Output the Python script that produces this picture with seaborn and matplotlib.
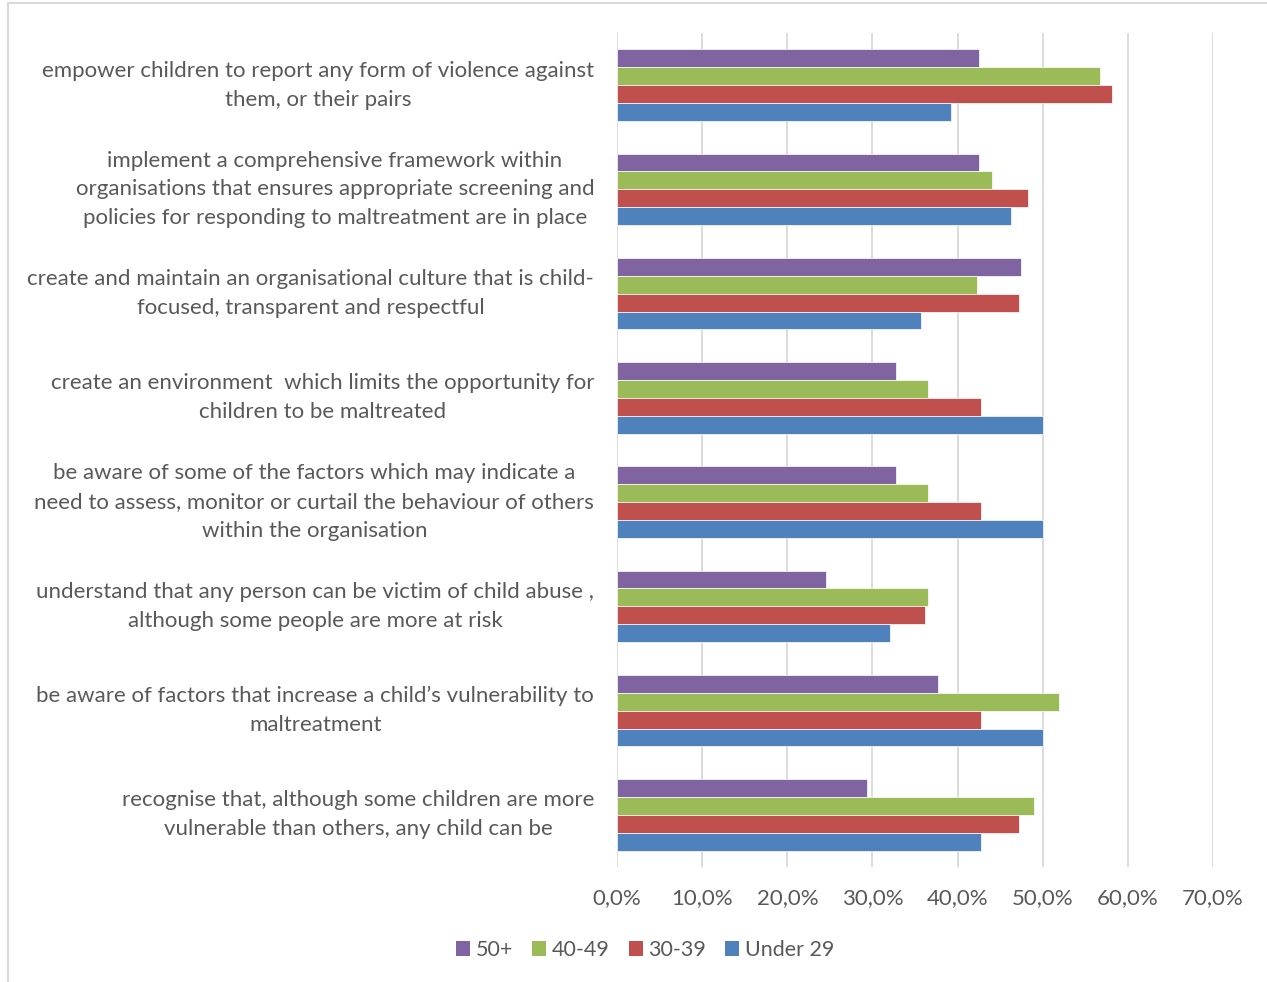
import matplotlib
matplotlib.use("Agg")
import matplotlib.pyplot as plt
import matplotlib.lines as mlines
from matplotlib.ticker import FuncFormatter, MultipleLocator
import seaborn as sns
import pandas as pd

# Statements (top to bottom)
categories = [
    "empower children to report any form of violence against\nthem, or their pairs",
    "implement a comprehensive framework within\norganisations that ensures appropriate screening and\npolicies for responding to maltreatment are in place",
    "create and maintain an organisational culture that is child-\nfocused, transparent and respectful",
    "create an environment  which limits the opportunity for\nchildren to be maltreated",
    "be aware of some of the factors which may indicate a\nneed to assess, monitor or curtail the behaviour of others\nwithin the organisation",
    "understand that any person can be victim of child abuse ,\nalthough some people are more at risk",
    "be aware of factors that increase a child\u2019s vulnerability to\nmaltreatment",
    "recognise that, although some children are more\nvulnerable than others, any child can be",
]

age_groups = ["50+", "40-49", "30-39", "Under 29"]

# Share of respondents per age group (%)
share_50plus = [42.5, 42.5, 47.5, 32.8, 32.8, 24.6, 37.7, 29.4]
share_40_49 = [56.7, 44.1, 42.3, 36.5, 36.5, 36.5, 51.9, 49.0]
share_30_39 = [58.2, 48.3, 47.2, 42.8, 42.8, 36.2, 42.8, 47.2]
share_under29 = [39.2, 46.3, 35.7, 50.0, 50.0, 32.1, 50.0, 42.8]

palette = {"50+": "#8064A2", "40-49": "#9BBB59", "30-39": "#C0504D", "Under 29": "#4F81BD"}

series = [share_50plus, share_40_49, share_30_39, share_under29]
df = pd.DataFrame(
    [(c, g, v) for g, vals in zip(age_groups, series) for c, v in zip(categories, vals)],
    columns=["statement", "age", "share"],
)

text_color = "#595959"
grid_color = "#D9D9D9"

sns.set_style("white")
plt.rcParams["font.family"] = ["Lato", "DejaVu Sans"]

fig = plt.figure(figsize=(12.67, 9.82), dpi=100)
ax = fig.add_axes([0.4871, 0.1171, 0.4701, 0.8493])

sns.barplot(
    data=df, x="share", y="statement", hue="age", hue_order=age_groups,
    order=categories, palette=palette, orient="h", width=0.687,
    edgecolor="white", linewidth=0.5, saturation=1, ax=ax, legend=True,
)

ax.set_xlim(0, 70)
ax.xaxis.set_major_locator(MultipleLocator(10))
ax.xaxis.set_major_formatter(FuncFormatter(lambda v, _: f"{v:.1f}%".replace(".", ",")))
ax.grid(axis="x", color=grid_color, linewidth=1.3)
ax.set_axisbelow(True)
for s in ax.spines.values():
    s.set_visible(False)
ax.set_xlabel("")
ax.set_ylabel("")
ax.tick_params(axis="x", length=0, pad=15.5, labelsize=16, labelcolor=text_color)
ax.tick_params(axis="y", length=0, pad=16.5, labelsize=16, labelcolor=text_color)
for lbl in ax.get_yticklabels():
    lbl.set_multialignment("center")
    lbl.set_linespacing(1.55)
    lbl.set_verticalalignment("center")

handles, labels = ax.get_legend_handles_labels()
for h in handles:
    h.set_linewidth(0)
ax.get_legend().remove()
fig.legend(
    handles, labels, loc="center", bbox_to_anchor=(645 / 1267, 1 - 950 / 982),
    ncol=4, frameon=False, fontsize=15.5, labelcolor=text_color,
    handlelength=0.65, handleheight=0.65, handletextpad=0.25, columnspacing=0.9,
)

# Chart frame (left and top edges)
fig.add_artist(mlines.Line2D([8 / 1267, 8 / 1267], [0, 1 - 3 / 982], color=grid_color, linewidth=1.5))
fig.add_artist(mlines.Line2D([8 / 1267, 1], [1 - 3 / 982, 1 - 3 / 982], color=grid_color, linewidth=1.5))

fig.savefig("out.png", dpi=100, facecolor="white")
